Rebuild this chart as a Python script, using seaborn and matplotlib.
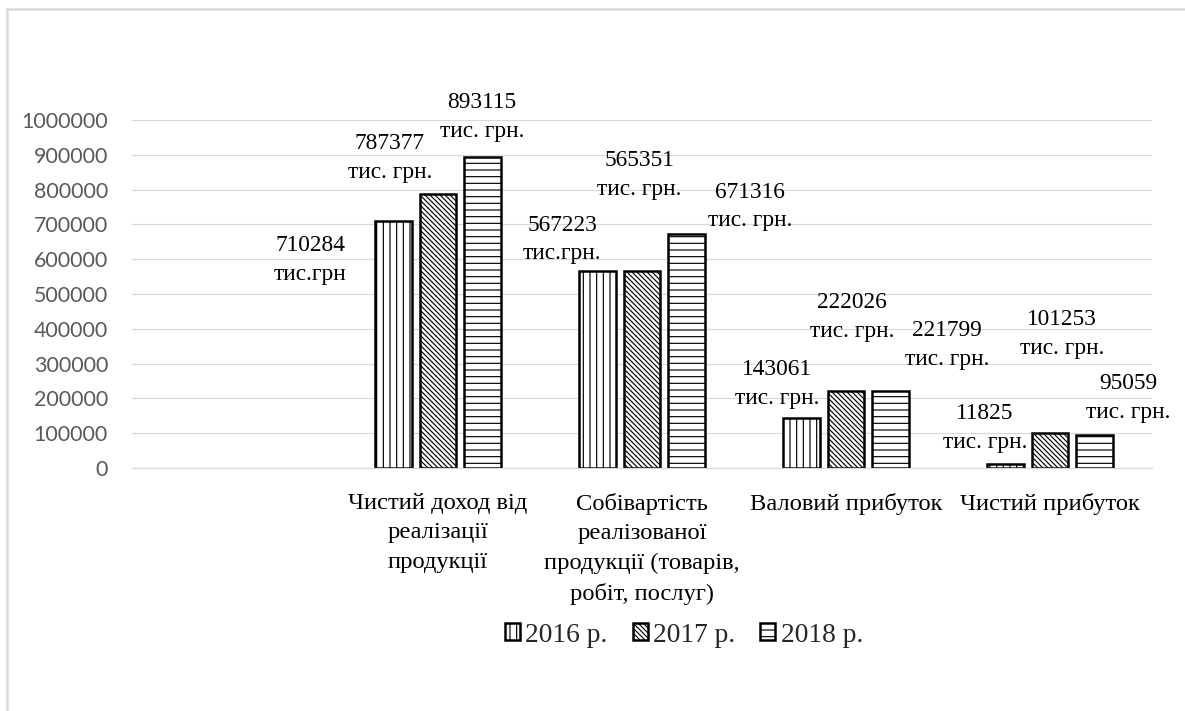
import matplotlib
matplotlib.use("Agg")
import matplotlib.pyplot as plt
from matplotlib.lines import Line2D
from matplotlib.patches import Patch
from matplotlib.font_manager import FontProperties
import pandas as pd
import seaborn as sns

# Categories (the first slot is intentionally blank)
categories = [
    "",
    "Чистий доход від\nреалізації\nпродукції",
    "Собівартість\nреалізованої\nпродукції (товарів,\nробіт, послуг)",
    "Валовий прибуток",
    "Чистий прибуток",
]
years = ["2016 р.", "2017 р.", "2018 р."]

values_2016 = [710284, 567223, 143061, 11825]
values_2017 = [787377, 565351, 222026, 101253]
values_2018 = [893115, 671316, 221799, 95059]

units_2016 = ["тис.грн", "тис.грн.", "тис. грн.", "тис. грн."]
units_2017 = ["тис. грн.", "тис. грн.", "тис. грн.", "тис. грн."]
units_2018 = ["тис. грн.", "тис. грн.", "тис. грн.", "тис. грн."]

y_ticks = [0, 100000, 200000, 300000, 400000, 500000,
           600000, 700000, 800000, 900000, 1000000]

series_values = [values_2016, values_2017, values_2018]
series_units = [units_2016, units_2017, units_2018]
hatches = ["|||", "\\" * 8, "---"]

# label placement relative to each bar top (pixels: right, up)
label_offsets = [
    [(-83, -39), (-35, 31), (-24, 34), (-20, 36)],
    [(-48, 36), (-3, 96), (6, 74), (12, 99)],
    [(-1, 40), (63, 28), (56, 46), (33, 37)],
]

rows = []
for year, vals in zip(years, series_values):
    for cat, v in zip(categories[1:], vals):
        rows.append({"category": cat, "year": year, "value": v})
df = pd.DataFrame(rows)

sns.set_style("white")
plt.rcParams["hatch.linewidth"] = 0.7
plt.rcParams["font.family"] = ["Liberation Serif", "DejaVu Serif"]

W, H, DPI = 1185, 711, 120
fig = plt.figure(figsize=(W / DPI, H / DPI), dpi=DPI)
ax = fig.add_axes([132 / W, 243 / H, 1020 / W, 348 / H])

sns.barplot(
    data=df, x="category", y="value", hue="year",
    order=categories, hue_order=years,
    palette={y: "white" for y in years}, saturation=1,
    width=0.66, gap=0.18, edgecolor="black", linewidth=1.5,
    errorbar=None, legend=False, ax=ax,
)

for cont, hatch, vals, units, offs in zip(ax.containers, hatches,
                                          series_values, series_units,
                                          label_offsets):
    for bar in cont:
        bar.set_hatch(hatch)
        bar.set_facecolor("white")
        bar.set_edgecolor("black")
        cx = bar.get_x() + bar.get_width() / 2
        idx = int(round(cx)) - 1
        if idx < 0 or idx >= len(vals):
            continue
        dx, dy = offs[idx]
        ax.annotate(
            f"{vals[idx]}\n{units[idx]}",
            xy=(cx, bar.get_height()), xytext=(dx, dy),
            textcoords="offset pixels", ha="center", va="center",
            multialignment="center", fontsize=14, linespacing=1.48,
            family="Liberation Serif", color="black",
        )

ax.set_xlim(-0.5, len(categories) - 0.5)
ax.set_ylim(0, 1000000)
ax.set_yticks(y_ticks)
ax.set_yticklabels([str(t) for t in y_ticks])
ax.set_xticks(range(len(categories)))
ax.set_xticklabels(categories, linespacing=1.52, multialignment="center",
                   family="Liberation Serif")
ax.yaxis.grid(True, color="#d9d9d9", linewidth=0.7)
ax.set_axisbelow(True)
for side in ["top", "right", "left"]:
    ax.spines[side].set_visible(False)
ax.spines["bottom"].set_color("#d9d9d9")
ax.spines["bottom"].set_linewidth(0.7)
ax.set_xlabel("")
ax.set_ylabel("")
ax.tick_params(axis="y", length=0, pad=14.4, labelsize=12.8, labelcolor="#595959")
ax.tick_params(axis="x", length=0, pad=15, labelsize=14.7, labelcolor="black")
for t in ax.get_yticklabels():
    t.set_fontfamily(["Lato", "DejaVu Sans"])
for t in ax.get_xticklabels():
    t.set_fontfamily(["Liberation Serif", "DejaVu Serif"])
    t.set_linespacing(1.52)
    t.set_multialignment("center")

handles = [Patch(facecolor="white", edgecolor="black", hatch=h, linewidth=1.5)
           for h in hatches]
fig.legend(
    handles, years, loc="center", bbox_to_anchor=(684 / W, 1 - 635 / H),
    ncol=3, frameon=False,
    prop=FontProperties(family="Liberation Serif", size=16.5),
    handlelength=0.55, handleheight=0.55, handletextpad=0.2,
    columnspacing=0.9,
)

# light frame around the chart area
fig.add_artist(Line2D([7 / W, 1.0], [1 - 9 / H, 1 - 9 / H],
                      transform=fig.transFigure, color="#d9d9d9", linewidth=1.5))
fig.add_artist(Line2D([7 / W, 7 / W], [0.0, 1 - 9 / H],
                      transform=fig.transFigure, color="#d9d9d9", linewidth=1.5))

fig.savefig("out.png", dpi=DPI)
